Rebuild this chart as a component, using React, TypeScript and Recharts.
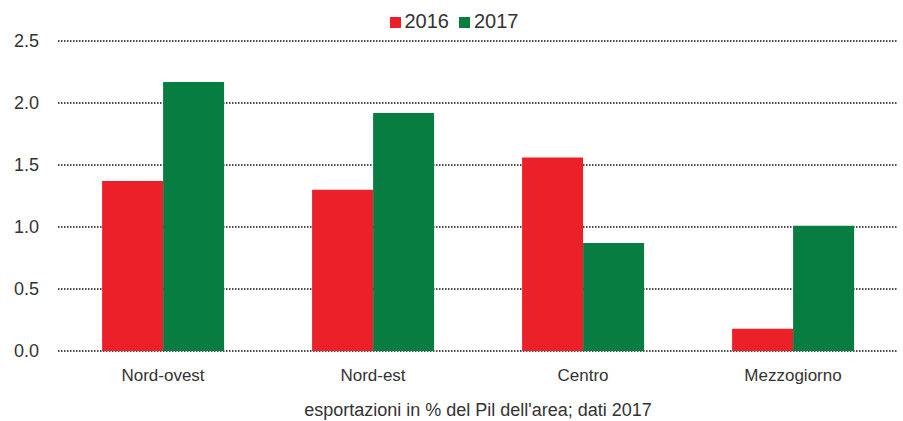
import { BarChart, Bar, XAxis, YAxis, CartesianGrid, Legend } from 'recharts'

const AREAS = ['Nord-ovest', 'Nord-est', 'Centro', 'Mezzogiorno']
const VALUES_2016 = [1.37, 1.3, 1.56, 0.18]
const VALUES_2017 = [2.17, 1.92, 0.87, 1.01]
const Y_TICKS = [0, 0.5, 1, 1.5, 2, 2.5]

const RED = '#ec2028'
const GREEN = '#087d41'
const TEXT = '#333333'
const FONT = "'Liberation Sans', Arial, sans-serif"

const data = AREAS.map((area, i) => ({
  area,
  y2016: VALUES_2016[i],
  y2017: VALUES_2017[i],
}))

export default function App() {
  return (
    <div style={{ position: 'absolute', left: 0, top: 0, width: 903, height: 421, background: '#fff' }}>
      <BarChart
        width={903}
        height={421}
        data={data}
        margin={{ top: 18, right: 5, bottom: 0, left: 0 }}
        barCategoryGap="21%"
        barGap={0}
      >
        <CartesianGrid
          vertical={false}
          stroke="#111"
          strokeWidth={1.5}
          strokeDasharray="1.5 1.5"
        />
        <XAxis
          dataKey="area"
          axisLine={false}
          tickLine={false}
          height={70}
          tickMargin={12}
          tick={{ fill: TEXT, fontSize: 17, fontFamily: FONT }}
          label={{
            value: "esportazioni in % del Pil dell'area; dati 2017",
            position: 'insideBottom',
            offset: 5,
            fill: TEXT,
            fontSize: 18,
            fontFamily: FONT,
          }}
        />
        <YAxis
          domain={[0, 2.5]}
          ticks={Y_TICKS}
          axisLine={false}
          tickLine={false}
          width={58}
          tickMargin={13}
          tickFormatter={(v: number) => v.toFixed(1)}
          tick={{ fill: TEXT, fontSize: 18, fontFamily: FONT }}
        />
        <Legend
          verticalAlign="top"
          align="center"
          iconType="square"
          iconSize={11}
          wrapperStyle={{ top: 10, fontFamily: FONT, fontSize: 20, color: TEXT, paddingLeft: 10 }}
          formatter={(value: string) => <span style={{ color: TEXT }}>{value}</span>}
        />
        <Bar dataKey="y2016" name="2016" fill={RED} isAnimationActive={false} />
        <Bar dataKey="y2017" name="2017" fill={GREEN} isAnimationActive={false} />
      </BarChart>
    </div>
  )
}
